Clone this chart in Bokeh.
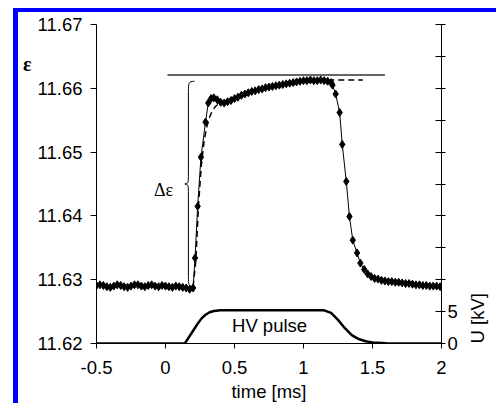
import math
from bokeh.plotting import figure
from bokeh.models import (Range1d, LinearAxis, FixedTicker, Label,
                          NumeralTickFormatter, CustomJSTickFormatter)
from bokeh.embed import file_html
from bokeh.resources import INLINE

# ---------------- data ----------------
# measured permittivity (diamonds)
t_eps = [-0.5, -0.475, -0.45, -0.425, -0.4, -0.375, -0.35, -0.325, -0.3, -0.275,
         -0.25, -0.225, -0.2, -0.175, -0.15, -0.125, -0.1, -0.075, -0.05, -0.025,
         0.0, 0.025, 0.05, 0.075, 0.1, 0.125, 0.15, 0.175, 0.2,
         0.214, 0.233, 0.257, 0.29, 0.31, 0.33, 0.35, 0.375, 0.4, 0.425,
         0.45, 0.475, 0.5, 0.525, 0.55, 0.575, 0.6, 0.625, 0.65, 0.675,
         0.7, 0.725, 0.75, 0.775, 0.8, 0.825, 0.85, 0.875, 0.9, 0.925,
         0.95, 0.975, 1.0, 1.025, 1.05, 1.075, 1.1, 1.125, 1.15, 1.175,
         1.2, 1.21, 1.233, 1.262, 1.281, 1.31, 1.333, 1.357, 1.388, 1.412,
         1.44, 1.465, 1.49, 1.515, 1.54, 1.565, 1.59, 1.615, 1.64, 1.665,
         1.69, 1.715, 1.74, 1.765, 1.79, 1.815, 1.84, 1.865, 1.89, 1.915,
         1.94, 1.965, 1.99]
eps = [11.6291, 11.6292, 11.6291, 11.6289, 11.6288, 11.6290, 11.6292, 11.6291, 11.6289, 11.6288,
       11.6290, 11.6292, 11.6292, 11.6290, 11.6289, 11.6291, 11.6292, 11.6290, 11.6289, 11.6291,
       11.6290, 11.6289, 11.6288, 11.6290, 11.6289, 11.6288, 11.6287, 11.6285, 11.6287,
       11.6334, 11.6415, 11.6492, 11.6547, 11.6577, 11.6584, 11.6585, 11.6582, 11.6578, 11.6577,
       11.6579, 11.6581, 11.6584, 11.6586, 11.6589, 11.6591, 11.6593, 11.6595, 11.6596, 11.6598,
       11.6599, 11.6601, 11.6602, 11.6603, 11.6604, 11.6605, 11.6606, 11.6607, 11.6608, 11.6609,
       11.6610, 11.6611, 11.6612, 11.6612, 11.6613, 11.6612, 11.6612, 11.6613, 11.6612, 11.6611,
       11.6609, 11.6605, 11.6591, 11.6562, 11.6512, 11.6454, 11.6399, 11.6362, 11.6342, 11.6326,
       11.6316, 11.6309, 11.6305, 11.6302, 11.6301, 11.6299, 11.6298, 11.6297, 11.6297, 11.6296,
       11.6296, 11.6295, 11.6294, 11.6294, 11.6293, 11.6292, 11.6292, 11.6291, 11.6291, 11.6290,
       11.6290, 11.6290, 11.6289]

# fitted rise (dashed)
t_fit = [0.2, 0.22, 0.24, 0.26, 0.28, 0.3, 0.32, 0.34, 0.36, 0.38, 0.4, 0.45, 0.5,
         0.6, 0.7, 0.8, 0.9, 1.0, 1.1, 1.2, 1.3, 1.43]
eps_fit = [11.6289, 11.6330, 11.6420, 11.6480, 11.6518, 11.6540, 11.6555, 11.6565, 11.6571,
           11.6575, 11.6577, 11.6581, 11.6585, 11.6593, 11.6599, 11.6604, 11.6608, 11.6611,
           11.6612, 11.6613, 11.6613, 11.6613]

# HV pulse (kV, right axis)
t_hv = [-0.5, 0.14, 0.17, 0.2, 0.23, 0.26, 0.29, 0.32, 0.35, 0.4, 0.5, 1.0, 1.15,
        1.2, 1.25, 1.3, 1.35, 1.4, 1.45, 1.5, 1.6, 1.7, 2.0]
u_hv = [0.0, 0.0, 1.0, 2.0, 3.0, 3.9, 4.5, 4.9, 5.1, 5.2, 5.2, 5.2, 5.2,
        4.8, 3.7, 2.4, 1.3, 0.7, 0.35, 0.15, 0.05, 0.0, 0.0]

# reference levels / annotation values
eps_base = 11.6289       # baseline before pulse
eps_top = 11.6611        # saturated value
eps_line = 11.6621       # horizontal reference line
line_t = [0.014, 1.59]
brace_x = [0.21, 0.166, 0.14]   # hook, spine, tip

x_ticks = [-0.5, 0, 0.5, 1, 1.5, 2]
y_ticks = [11.62, 11.63, 11.64, 11.65, 11.66, 11.67]
u_ticks = [0, 5, 10, 15, 20, 25, 30, 35, 40, 45, 50]

FONT = "Liberation Sans"
FS = "18.5px"

# ---------------- figure ----------------
p = figure(width=483, height=395, x_range=Range1d(-0.5, 2.0),
           y_range=Range1d(11.62, 11.67), output_backend="svg",
           toolbar_location=None, min_border_left=78, min_border_right=56,
           min_border_top=12, min_border_bottom=64)
p.styles = {"margin-left": "13px", "margin-top": "8px",
            "border-left": "5px solid #0000ff", "border-top": "4px solid #0000ff"}
p.xgrid.visible = False
p.ygrid.visible = False
p.outline_line_color = None
p.extra_y_ranges = {"U": Range1d(0, 50)}

xa = p.xaxis[0]
xa.ticker = FixedTicker(ticks=x_ticks)
xa.formatter = NumeralTickFormatter(format="0.[0]")
xa.axis_label = "time [ms]"
xa.axis_label_text_font = FONT
xa.axis_label_text_font_size = FS
xa.axis_label_text_font_style = "normal"
xa.axis_label_text_color = "black"
xa.axis_label_standoff = 4
xa.major_label_standoff = 12

ya = p.yaxis[0]
ya.ticker = FixedTicker(ticks=y_ticks)
ya.formatter = NumeralTickFormatter(format="0.00")
ya.major_label_standoff = 8
ya.axis_label = "\n\n\nε"
ya.axis_label_text_font = "Liberation Serif"
ya.axis_label_text_font_style = "bold"
ya.axis_label_text_font_size = "20px"
ya.axis_label_text_color = "black"
ya.axis_label_standoff = 3
ya.axis_label_orientation = "horizontal"

ra = LinearAxis(y_range_name="U", ticker=FixedTicker(ticks=u_ticks),
                formatter=CustomJSTickFormatter(code="return tick < 7 ? tick.toFixed(0) : '';"))
ra.major_tick_in = 6
ra.major_tick_out = 4
ra.major_label_standoff = 2
ra.axis_label = "U [kV]"
ra.axis_label_text_font = FONT
ra.axis_label_text_font_size = FS
ra.axis_label_text_font_style = "normal"
ra.axis_label_text_color = "black"
ra.axis_label_standoff = 17
ra.axis_label_orientation = math.pi / 2
p.add_layout(ra, "right")

ya.axis_label_align = "end"
ra.axis_label_align = "start"

for ax, tout in ((xa, 5), (ya, 6)):
    ax.major_tick_out = tout
    ax.major_tick_in = 0
for ax in (xa, ya, ra):
    ax.minor_tick_line_color = None
    ax.major_label_text_font = FONT
    ax.major_label_text_font_size = FS
    ax.major_label_text_color = "black"
    ax.axis_line_color = "black"
    ax.major_tick_line_color = "black"

# horizontal reference line
p.line(line_t, [eps_line, eps_line], line_color="#333333", line_width=1.5)

# HV pulse
p.line(t_hv, u_hv, y_range_name="U", line_color="black", line_width=2.5)

# fitted dashed curve
p.line(t_fit, eps_fit, line_color="black", line_width=1.5, line_dash="6 4")

# measured data
p.line(t_eps, eps, line_color="black", line_width=1)
p.scatter(t_eps, eps, marker="diamond", size=8, color="black")

# curly brace (delta epsilon)
xh, xs, xt = brace_x
mid = (eps_base + eps_top) / 2
r = 0.0016
p.bezier(x0=[xh, xs, xt, xs], y0=[eps_top, mid + r, mid, eps_base + r],
         x1=[xs, xt, xs, xh], y1=[eps_top - r, mid, mid - r, eps_base],
         cx0=[xs, xs, xs, xs], cy0=[eps_top, mid + 0.2 * r, mid, eps_base + 0.2 * r],
         cx1=[xs, xs, xs, xs], cy1=[eps_top - 0.2 * r, mid, mid - 0.2 * r, eps_base],
         line_color="black", line_width=1)
p.segment(x0=[xs, xs], y0=[eps_top - r, mid - r], x1=[xs, xs], y1=[mid + r, eps_base + r],
          line_color="black", line_width=1)

# texts inside the frame
p.add_layout(Label(x=-0.014, y=11.6440, text="Δε", text_font="Liberation Serif",
                   text_font_size="18px", text_color="black",
                   text_align="center", text_baseline="middle"))
p.add_layout(Label(x=0.754, y=2.85, y_range_name="U", text="HV pulse", text_font=FONT,
                   text_font_size=FS, text_color="black",
                   text_align="center", text_baseline="middle"))

open("out.html", "w").write(file_html(p, INLINE))
